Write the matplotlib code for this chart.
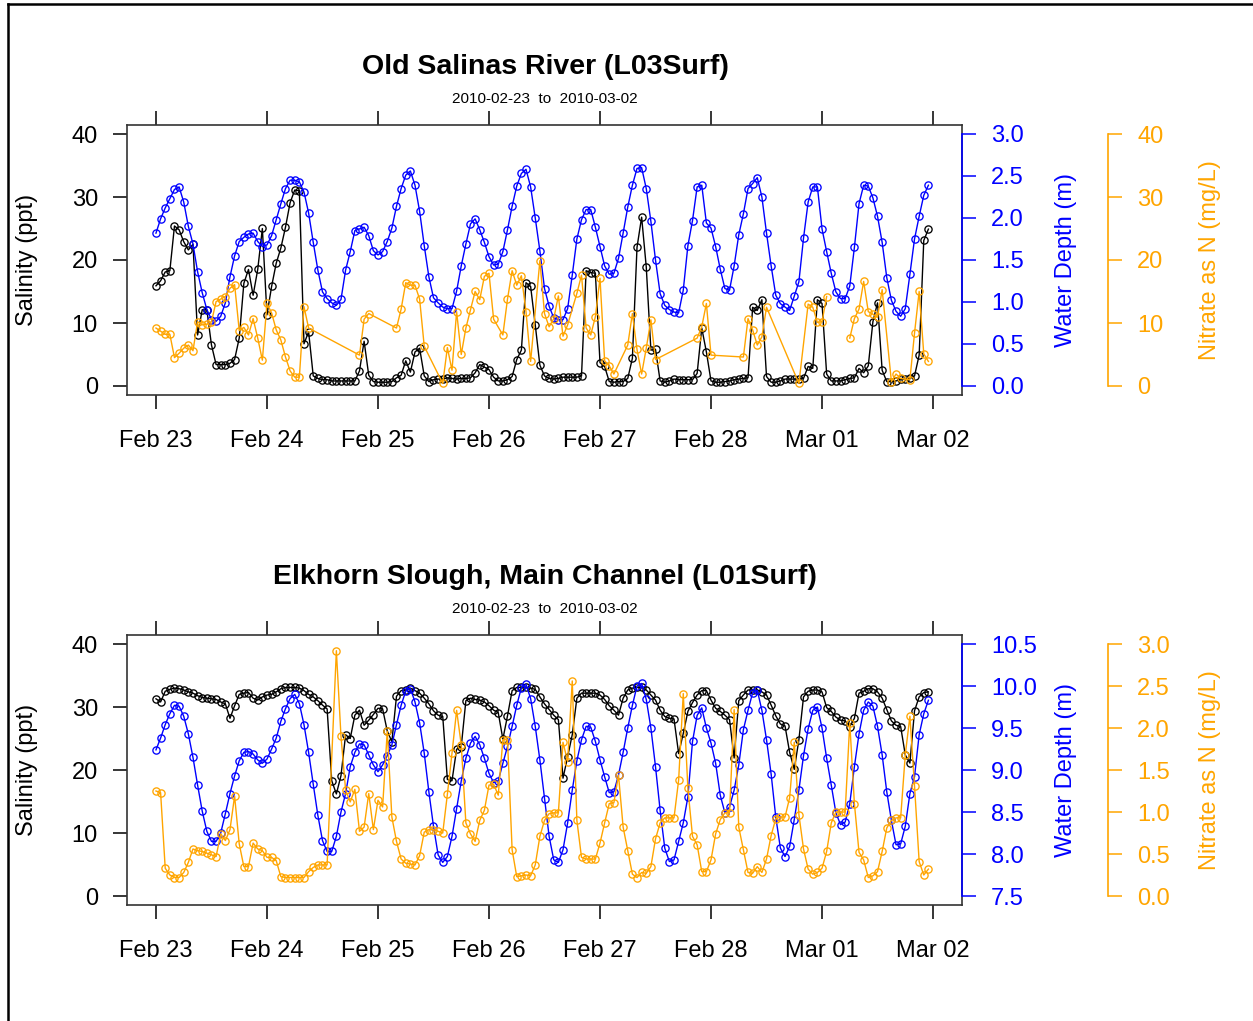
import numpy as np
import pandas as pd
import matplotlib
matplotlib.use("Agg")
import matplotlib.pyplot as plt
import matplotlib.dates as mdates
from matplotlib.lines import Line2D

plt.rcParams['font.family'] = ['Liberation Sans', 'DejaVu Sans']

# hourly record, 2010-02-23 00:00 .. 2010-03-01 23:00
hours = pd.date_range('2010-02-23 00:00', periods=168, freq='h')
day_ticks = pd.date_range('2010-02-23', '2010-03-02', freq='D')

# ---- Old Salinas River (L03Surf) ----
sal_osr = [
    15.9, 16.7, 18.1, 18.3, 25.4, 24.8, 22.9, 21.6, 22.5, 8.1,
    12.1, 12.1, 6.5, 3.4, 3.4, 3.4, 3.6, 4.2, 7.6, 16.3,
    18.5, 14.4, 18.5, 25.0, 11.3, 15.8, 19.5, 21.9, 25.2, 29.1,
    31.1, 31.0, 6.7, 8.6, 1.6, 1.2, 1.0, 1.0, 0.8, 0.8,
    0.8, 0.8, 0.8, 0.8, 2.4, 7.1, 1.7, 0.7, 0.6, 0.6,
    0.6, 0.7, 1.3, 1.7, 4.0, 2.2, 5.4, 6.0, 1.6, 0.7,
    1.0, 1.1, 1.1, 1.3, 1.2, 1.1, 1.2, 1.2, 1.3, 2.1,
    3.4, 3.0, 2.6, 1.4, 0.8, 0.8, 1.0, 1.5, 4.2, 5.7,
    16.4, 15.8, 9.7, 3.3, 1.6, 1.2, 1.1, 1.2, 1.4, 1.4,
    1.4, 1.4, 1.6, 18.3, 18.0, 17.9, 3.7, 3.1, 0.7, 0.6,
    0.7, 0.7, 1.2, 4.4, 22.0, 26.8, 18.9, 5.7, 5.8, 0.8,
    0.6, 0.8, 1.1, 1.0, 1.0, 1.0, 1.0, 2.0, 9.2, 5.4,
    0.8, 0.6, 0.6, 0.7, 0.8, 1.0, 1.1, 1.2, 1.3, 12.5,
    12.0, 13.7, 1.5, 0.6, 0.6, 0.8, 1.1, 1.1, 1.1, 1.1,
    1.2, 3.1, 2.8, 13.7, 13.1, 1.9, 0.8, 0.8, 0.8, 1.0,
    1.2, 1.3, 2.8, 2.1, 3.2, 10.2, 13.2, 2.5, 0.7, 0.7,
    0.8, 1.1, 1.1, 1.2, 1.6, 4.9, 23.1, 24.9,
]
depth_osr = [
    1.82, 1.99, 2.12, 2.23, 2.34, 2.37, 2.19, 1.90, 1.69, 1.36,
    1.11, 0.91, 0.79, 0.77, 0.83, 0.99, 1.30, 1.55, 1.72, 1.77,
    1.81, 1.82, 1.72, 1.66, 1.68, 1.79, 1.98, 2.17, 2.35, 2.45,
    2.45, 2.43, 2.31, 2.06, 1.71, 1.38, 1.12, 1.04, 0.99, 0.96,
    1.03, 1.38, 1.60, 1.85, 1.87, 1.89, 1.79, 1.61, 1.56, 1.60,
    1.72, 1.88, 2.14, 2.35, 2.51, 2.56, 2.39, 2.08, 1.67, 1.30,
    1.05, 0.99, 0.94, 0.92, 0.92, 1.13, 1.43, 1.69, 1.93, 1.99,
    1.86, 1.71, 1.54, 1.44, 1.45, 1.60, 1.86, 2.14, 2.38, 2.53,
    2.58, 2.37, 2.00, 1.61, 1.16, 0.95, 0.81, 0.79, 0.79, 0.92,
    1.32, 1.75, 1.98, 2.10, 2.10, 1.89, 1.66, 1.43, 1.33, 1.34,
    1.52, 1.82, 2.13, 2.39, 2.59, 2.60, 2.35, 1.96, 1.50, 1.10,
    0.96, 0.91, 0.88, 0.87, 1.14, 1.67, 1.97, 2.37, 2.39, 1.94,
    1.88, 1.66, 1.39, 1.16, 1.14, 1.43, 1.80, 2.05, 2.35, 2.41,
    2.48, 2.25, 1.82, 1.43, 1.08, 0.98, 0.94, 0.90, 1.07, 1.24,
    1.76, 2.19, 2.37, 2.37, 1.87, 1.60, 1.34, 1.12, 1.04, 1.04,
    1.19, 1.65, 2.17, 2.39, 2.38, 2.24, 2.02, 1.71, 1.29, 1.02,
    0.89, 0.83, 0.92, 1.33, 1.75, 2.02, 2.27, 2.39,
]
# None = no sample that hour (line joins across), nan = sensor gap (line breaks)
nan = np.nan
no3_osr = [
    9.2, 8.7, 8.2, 8.2, 4.5, 5.2, 6.0, 6.5, 5.6, 10.2,
    9.7, 9.8, 10.2, 13.4, 13.8, 14.2, 15.5, 16.1, 8.8, 9.3,
    8.1, 10.7, 7.6, 4.1, 13.1, 11.6, 8.9, 7.3, 4.6, 2.4,
    1.4, 1.4, 12.6, 9.2, None, None, None, None, None, None,
    None, None, None, None, 4.9, 10.6, 11.5, None, None, None,
    None, None, 9.2, 12.2, 16.4, 16.0, 16.0, 13.8, 6.3, None,
    None, None, 0.4, 6.1, 2.5, 11.8, 5.0, 9.2, 12.1, 15.0,
    13.7, 17.4, 17.9, 10.6, None, 8.1, 13.8, 18.3, 16.0, 17.5,
    11.8, 3.9, None, 19.9, 11.5, 9.4, 10.7, 14.3, 7.9, 9.7,
    None, 14.7, 17.6, 9.2, 8.1, 11.0, 17.1, 4.0, 3.2, 1.9,
    None, None, 6.5, 11.5, 5.8, 1.9, 6.0, 10.5, 4.2, None,
    None, None, None, None, None, None, None, 7.6, 9.4, 13.1,
    4.9, None, None, None, None, None, None, 4.6, 10.7, 8.9,
    6.5, 7.8, 12.5, None, None, None, None, None, None, 0.4,
    None, 13.0, 12.5, 10.1, 10.2, 14.2, None, nan, None, None,
    7.6, 10.7, 12.2, 16.6, 11.8, 11.4, 10.9, 15.3, None, 0.7,
    1.9, 1.2, None, 1.0, 8.4, 15.0, 5.1, 3.9,
]

# ---- Elkhorn Slough, Main Channel (L01Surf) ----
sal_els = [
    31.3, 30.8, 32.5, 32.8, 33.0, 32.9, 32.7, 32.4, 32.2, 31.8,
    31.5, 31.4, 31.3, 31.2, 30.8, 30.5, 28.2, 30.2, 32.0, 32.2,
    32.3, 31.4, 31.1, 31.6, 31.9, 32.0, 32.4, 32.9, 33.1, 33.1,
    33.1, 33.0, 32.6, 32.0, 31.6, 31.0, 30.3, 29.7, 18.3, 16.2,
    19.1, 25.6, 25.0, 28.7, 29.5, 27.1, 27.9, 28.8, 29.8, 29.7,
    26.2, 24.5, 31.7, 32.6, 32.7, 33.0, 32.6, 32.2, 31.4, 30.5,
    29.4, 28.7, 28.5, 18.5, 18.3, 23.3, 23.7, 31.0, 31.4, 31.2,
    31.1, 30.8, 30.2, 29.5, 29.1, 24.9, 28.6, 32.6, 33.1, 33.1,
    33.1, 33.0, 32.8, 31.6, 30.5, 29.6, 28.7, 28.0, 18.7, 22.1,
    25.6, 31.4, 32.2, 32.2, 32.2, 32.2, 31.9, 31.2, 30.2, 29.5,
    28.7, 31.4, 32.7, 33.0, 33.1, 33.1, 32.7, 31.9, 31.1, 29.5,
    28.5, 28.2, 28.1, 22.6, 25.8, 29.3, 30.7, 31.9, 32.6, 32.6,
    31.1, 29.8, 29.3, 28.7, 28.0, 21.9, 31.0, 31.9, 32.7, 32.7,
    32.7, 32.4, 31.9, 30.3, 28.6, 27.3, 27.0, 22.8, 20.1, 24.8,
    31.6, 32.5, 32.7, 32.7, 32.4, 29.9, 29.3, 28.4, 27.9, 27.8,
    26.9, 28.2, 32.2, 32.5, 32.9, 32.9, 32.4, 31.4, 29.6, 27.8,
    27.1, 26.9, 22.4, 21.1, 29.4, 31.6, 32.3, 32.4,
]
depth_els = [
    9.24, 9.38, 9.54, 9.67, 9.77, 9.76, 9.64, 9.43, 9.15, 8.82,
    8.51, 8.27, 8.15, 8.15, 8.25, 8.48, 8.72, 8.93, 9.11, 9.21,
    9.22, 9.19, 9.12, 9.08, 9.13, 9.25, 9.38, 9.58, 9.73, 9.85,
    9.90, 9.79, 9.54, 9.21, 8.83, 8.46, 8.16, 8.03, 8.03, 8.21,
    8.50, 8.72, 9.04, 9.21, 9.31, 9.30, 9.18, 9.06, 8.98, 9.06,
    9.17, 9.30, 9.54, 9.77, 9.94, 9.97, 9.81, 9.56, 9.20, 8.74,
    8.33, 7.99, 7.90, 7.97, 8.21, 8.54, 8.87, 9.14, 9.32, 9.40,
    9.30, 9.14, 8.96, 8.85, 8.87, 9.08, 9.28, 9.52, 9.77, 9.98,
    10.02, 9.85, 9.52, 9.12, 8.66, 8.21, 7.93, 7.90, 8.05, 8.37,
    8.76, 9.11, 9.36, 9.52, 9.51, 9.34, 9.12, 8.92, 8.73, 8.74,
    8.94, 9.21, 9.50, 9.77, 10.00, 10.03, 9.84, 9.50, 9.04, 8.52,
    8.07, 7.91, 7.93, 8.15, 8.37, 8.68, 9.34, 9.65, 9.74, 9.50,
    9.32, 9.08, 8.70, 8.49, 8.56, 8.76, 9.06, 9.48, 9.71, 9.92,
    9.95, 9.71, 9.36, 8.95, 8.44, 8.07, 7.97, 8.09, 8.41, 8.76,
    9.17, 9.49, 9.71, 9.75, 9.50, 9.14, 8.82, 8.49, 8.35, 8.38,
    8.60, 9.04, 9.43, 9.71, 9.81, 9.76, 9.52, 9.18, 8.74, 8.40,
    8.11, 8.12, 8.33, 8.72, 8.92, 9.42, 9.67, 9.83,
]
no3_els = [
    1.25, 1.23, 0.33, 0.25, 0.22, 0.22, 0.28, 0.40, 0.56, 0.54,
    0.53, 0.51, 0.49, 0.47, 0.74, 0.66, 0.79, 1.19, 0.62, 0.35,
    0.35, 0.63, 0.56, 0.54, 0.46, 0.46, 0.42, 0.23, 0.22, 0.22,
    0.22, 0.22, 0.22, 0.29, 0.34, 0.37, 0.37, 0.37, None, 2.92,
    1.90, 1.26, 1.12, 1.27, 0.77, 0.82, 1.22, 0.79, 1.14, 1.06,
    1.96, 0.94, 0.65, 0.44, 0.39, 0.38, 0.37, 0.48, 0.76, 0.79,
    0.79, 0.77, 0.75, 1.21, 1.70, 2.21, 1.80, 0.87, 0.74, 0.65,
    0.90, 1.02, 1.32, 1.33, 1.20, 1.86, 1.86, 0.55, 0.23, 0.24,
    0.25, 0.24, 0.37, 0.71, 0.90, 0.98, 0.99, 0.99, 1.83, 1.60,
    2.56, 0.90, 0.46, 0.44, 0.44, 0.44, 0.63, 0.87, 1.10, 1.11,
    1.44, 0.82, 0.54, 0.26, 0.22, 0.28, 0.27, 0.35, 0.68, 0.87,
    0.93, 0.93, 0.93, 1.38, 2.41, 1.28, 0.71, 0.61, 0.29, 0.29,
    0.43, 0.74, 0.91, 0.99, 0.99, 2.22, 0.82, 0.55, 0.28, 0.27,
    0.35, 0.28, 0.44, 0.72, 0.92, 0.94, 0.94, 1.17, 1.83, 0.97,
    0.56, 0.32, 0.26, 0.28, 0.33, 0.53, 0.87, 1.00, 1.00, 1.00,
    2.06, 1.10, 0.52, 0.43, 0.22, 0.24, 0.29, 0.53, 0.81, 0.90,
    0.93, 0.93, 1.68, 2.14, 1.31, 0.41, 0.25, 0.32,
]

BLUE = '#0000FF'
ORANGE = '#FFA500'
W, H = 1253, 1021


def rows(values):
    # keep hours that have a value; nan stays in so the line breaks there
    idx = [i for i, v in enumerate(values) if v is not None]
    return hours[idx], np.array([values[i] for i in idx], dtype=float)


def series(ax, values, color):
    t, v = rows(values)
    ax.plot(t, v, color=color, lw=1.0, marker='o', ms=5.2, mfc='none',
            mec=color, mew=0.95)


def panel(top_px, title, sal, depth, no3, dlim, dticks, nlim, nticks, nfmt):
    left, right, bottom = 127, 962, top_px + 270
    rect = [left / W, 1 - bottom / H, (right - left) / W, 270 / H]
    ax = fig.add_axes(rect)
    series(ax, sal, 'black')
    pad = 0.261
    ax.set_xlim(mdates.date2num(day_ticks[0]) - pad, mdates.date2num(day_ticks[-1]) + pad)
    ax.set_ylim(-40 * 9 / 252, 40 + 40 * 9 / 252)
    ax.set_xticks(day_ticks)
    ax.xaxis.set_major_formatter(mdates.DateFormatter('%b %d'))
    ax.set_yticks([0, 10, 20, 30, 40])
    ax.tick_params(axis='both', direction='out', length=10, width=1.1,
                   labelsize=17, pad=11)
    ax.tick_params(axis='x', top=True, pad=15)
    for s in ax.spines.values():
        s.set_linewidth(1.2)
        s.set_color('#333333')

    ax2 = ax.twinx()
    series(ax2, depth, BLUE)
    span = dlim[1] - dlim[0]
    ax2.set_ylim(dlim[0] - span * 9 / 252, dlim[1] + span * 9 / 252)
    ax2.set_yticks(dticks)
    ax2.yaxis.set_major_formatter(matplotlib.ticker.FormatStrFormatter('%.1f'))
    for k in ('left', 'top', 'bottom'):
        ax2.spines[k].set_visible(False)
    ax2.spines['right'].set_bounds(*dlim)
    ax2.spines['right'].set_color(BLUE)
    ax2.spines['right'].set_linewidth(1.2)
    ax2.tick_params(axis='y', colors=BLUE, direction='out', length=10,
                    width=1.1, labelsize=17, pad=11)

    ax3 = ax.twinx()
    series(ax3, no3, ORANGE)
    span = nlim[1] - nlim[0]
    ax3.set_ylim(nlim[0] - span * 9 / 252, nlim[1] + span * 9 / 252)
    ax3.set_yticks(nticks)
    ax3.yaxis.set_major_formatter(matplotlib.ticker.FormatStrFormatter(nfmt))
    for k in ('left', 'top', 'bottom'):
        ax3.spines[k].set_visible(False)
    ax3.spines['right'].set_position(('axes', (1108 - left) / (right - left)))
    ax3.spines['right'].set_bounds(*nlim)
    ax3.spines['right'].set_color(ORANGE)
    ax3.spines['right'].set_linewidth(1.2)
    ax3.tick_params(axis='y', colors=ORANGE, direction='out', length=10,
                    width=1.1, labelsize=17, pad=11)

    mid = 1 - (top_px + 135) / H
    fig.text(545 / W, 1 - (top_px - 58) / H, title, ha='center', va='center',
             fontsize=20.5, fontweight='bold')
    fig.text(545 / W, 1 - (top_px - 26) / H, '2010-02-23  to  2010-03-02',
             ha='center', va='center', fontsize=11)
    fig.text(27 / W, mid, 'Salinity (ppt)', rotation=90, ha='center',
             va='center', fontsize=17)
    fig.text(1066 / W, mid, 'Water Depth (m)', rotation=90, ha='center',
             va='center', fontsize=17, color=BLUE)
    fig.text(1210 / W, mid, 'Nitrate as N (mg/L)', rotation=90, ha='center',
             va='center', fontsize=17, color=ORANGE)


fig = plt.figure(figsize=(W / 100, H / 100), dpi=100)

panel(125, 'Old Salinas River (L03Surf)', sal_osr, depth_osr, no3_osr,
      (0, 3), [0, 0.5, 1, 1.5, 2, 2.5, 3], (0, 40), [0, 10, 20, 30, 40], '%d')
panel(635, 'Elkhorn Slough, Main Channel (L01Surf)', sal_els, depth_els, no3_els,
      (7.5, 10.5), [7.5, 8, 8.5, 9, 9.5, 10, 10.5], (0, 3),
      [0, 0.5, 1, 1.5, 2, 2.5, 3], '%.1f')

# frame around the page
fig.add_artist(Line2D([8 / W, 1], [1 - 4 / H, 1 - 4 / H], color='black', lw=1.8))
fig.add_artist(Line2D([8 / W, 8 / W], [0, 1 - 4 / H], color='black', lw=1.8))

fig.savefig('out.png', dpi=100)
